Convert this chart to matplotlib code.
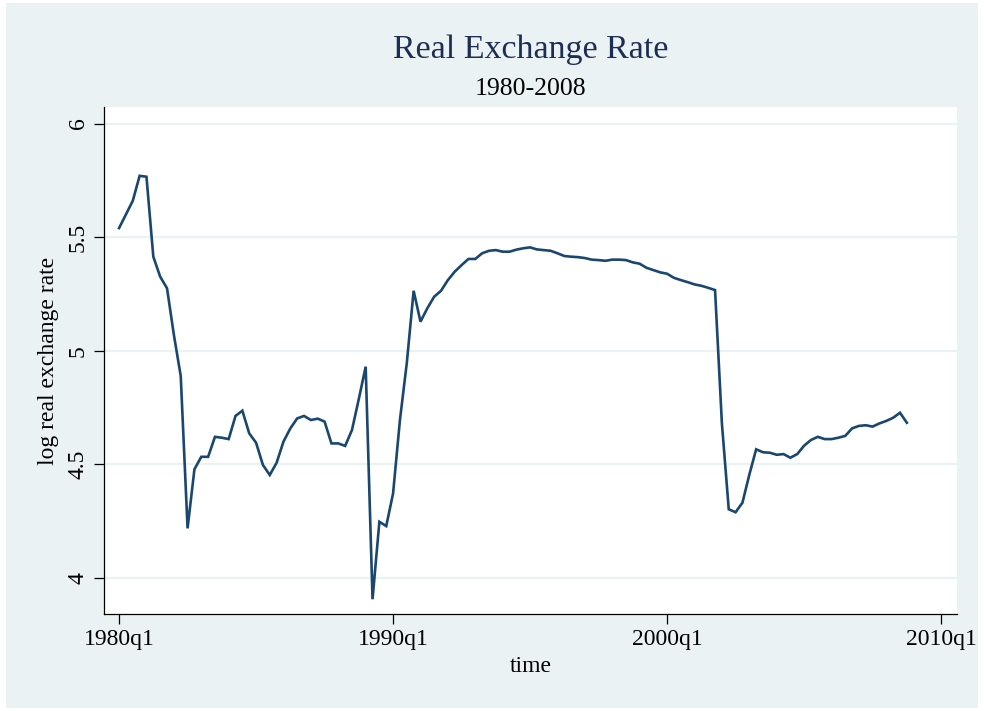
import numpy as np
import matplotlib
matplotlib.use('Agg')
import matplotlib.pyplot as plt
from matplotlib.patches import Rectangle

# quarterly log real exchange rate, 1980q1 .. 2008q4
start_year = 1980
lrer = [
    5.54, 5.60, 5.66, 5.77, 5.766, 5.414, 5.326, 5.275,          # 1980-81
    5.07, 4.889, 4.218, 4.478, 4.533, 4.533, 4.621, 4.617,       # 1982-83
    4.611, 4.713, 4.736, 4.636, 4.595, 4.497, 4.453, 4.507,      # 1984-85
    4.600, 4.658, 4.702, 4.713, 4.695, 4.701, 4.688, 4.592,      # 1986-87
    4.592, 4.581, 4.651, 4.788, 4.930, 3.906, 4.247, 4.228,      # 1988-89
    4.372, 4.695, 4.945, 5.264, 5.128, 5.187, 5.238, 5.264,      # 1990-91
    5.311, 5.348, 5.377, 5.404, 5.404, 5.429, 5.440, 5.443,      # 1992-93
    5.436, 5.436, 5.445, 5.451, 5.455, 5.446, 5.443, 5.440,      # 1994-95
    5.429, 5.417, 5.414, 5.412, 5.408, 5.401, 5.399, 5.396,      # 1996-97
    5.401, 5.401, 5.399, 5.389, 5.383, 5.365, 5.355, 5.345,      # 1998-99
    5.339, 5.321, 5.311, 5.302, 5.292, 5.286, 5.277, 5.267,      # 2000-01
    4.680, 4.302, 4.289, 4.331, 4.454, 4.566, 4.553, 4.551,      # 2002-03
    4.542, 4.545, 4.529, 4.545, 4.582, 4.607, 4.621, 4.611,      # 2004-05
    4.611, 4.617, 4.625, 4.658, 4.669, 4.672, 4.666, 4.680,      # 2006-07
    4.691, 4.705, 4.727, 4.683,                                  # 2008
]
t = start_year + np.arange(len(lrer)) / 4.0

xticks = [1980, 1990, 2000, 2010]
xtick_labels = ['1980q1', '1990q1', '2000q1', '2010q1']
yticks = [4, 4.5, 5, 5.5, 6]
ytick_labels = ['4', '4.5', '5', '5.5', '6']

bg = '#EAF2F3'
navy = '#1A476F'

plt.rcParams['font.family'] = ['Liberation Serif', 'DejaVu Serif']

fig = plt.figure(figsize=(9.84, 7.11), dpi=100)
fig.patch.set_facecolor('white')
fig.patches.append(Rectangle((6 / 984, 3 / 711), 972 / 984, 705 / 711,
                             transform=fig.transFigure, facecolor=bg,
                             edgecolor='none', zorder=-10))

ax = fig.add_axes([104 / 984, (711 - 614) / 711, 853 / 984, 507 / 711])
ax.set_facecolor('white')
ax.plot(t, lrer, color=navy, lw=1.9, solid_joinstyle='miter', zorder=3)

ax.set_xlim(1979.45, 2010.58)
ax.set_ylim(3.841, 6.073)
ax.set_xticks(xticks)
ax.set_xticklabels(xtick_labels, fontsize=17)
ax.set_yticks(yticks)
ax.set_yticklabels(ytick_labels, fontsize=17, rotation=90, va='center')
ax.yaxis.grid(True, color=bg, lw=1.6)
ax.set_axisbelow(True)

for side in ['top', 'right']:
    ax.spines[side].set_visible(False)
for side in ['left', 'bottom']:
    ax.spines[side].set_color('#000000')
    ax.spines[side].set_linewidth(0.9)
ax.tick_params(direction='out', length=7, width=0.9, colors='black', pad=4)

ax.set_xlabel('time', fontsize=17, labelpad=4)
ax.set_ylabel('log real exchange rate', fontsize=17, labelpad=6)

cx = (104 + 957) / 2 / 984
fig.text(cx, 1 - 50 / 711, 'Real Exchange Rate', ha='center', va='center',
         fontsize=24.5, color='#1E2D54')
fig.text(cx, 1 - 89 / 711, '1980-2008', ha='center', va='center',
         fontsize=18.5, color='black')

fig.savefig('out.png', dpi=100, facecolor=fig.get_facecolor())
